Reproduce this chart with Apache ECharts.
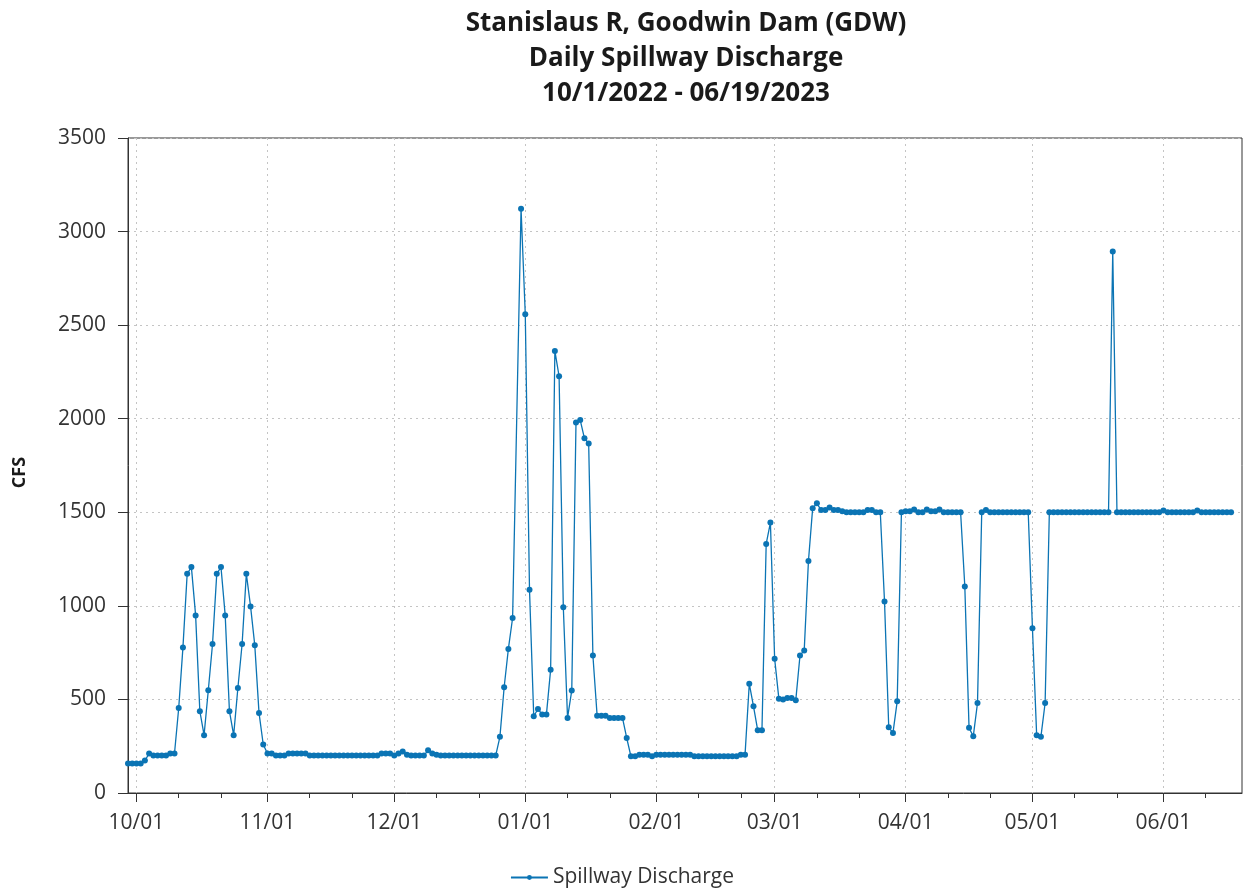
<!DOCTYPE html>
<html><head><meta charset="utf-8">
<script src="https://cdn.jsdelivr.net/npm/echarts@6/dist/echarts.min.js"></script>
<style>html,body{margin:0;padding:0;background:#fff}#c{width:1244px;height:888px}</style>
</head><body><div id="c"></div>
<script>
const titleLines = ['Stanislaus R, Goodwin Dam (GDW)', 'Daily Spillway Discharge', '10/1/2022 - 06/19/2023'];
const seriesName = 'Spillway Discharge';
const yAxisName = 'CFS';
// first value is drawn at this date (the reference draws the series starting just left of the 10/01 tick)
const firstPlotDate = [2022, 8, 29];
// daily spillway discharge (cfs), one value per day, null = missing day
const spillwayCfs = [
  157,157,157,157,173,211,200,200,200,200,211,211,454,778,1171,1207,949,437,309,549,796,1171,1207,949,437,309,561,796,1171,997,789,428,259,211,
  211,200,200,200,211,211,211,211,211,
  200,200,200,200,200,200,200,200,200,200,200,200,200,200,200,200,200,
  211,211,211,200,211,222,205,200,200,200,200,228,211,205,
  200,200,200,200,200,200,200,200,200,200,200,200,200,200,
  300,565,770,935,null,
  3122,2558,1086,410,449,419,419,659,2362,2227,993,401,548,1980,1993,1895,1868,735,413,413,413,401,401,401,401,294,
  196,196,205,205,205,196,205,205,205,205,205,205,205,205,205,196,196,196,196,196,196,196,196,196,196,196,205,205,
  584,463,335,335,1331,1445,718,504,499,508,508,495,735,762,1240,1522,1548,
  1512,1512,1525,1512,1512,1505,1500,1500,1500,1500,1500,1512,1512,1500,1500,1023,351,321,490,
  1500,1505,1505,1515,1500,1500,1515,1505,1505,1515,1500,1500,1500,1500,1500,1103,348,303,481,
  1500,1512,1500,1500,1500,1500,1500,1500,1500,1500,1500,1500,881,308,300,481,
  1500,1500,1500,1500,1500,1500,1500,1500,1500,1500,1500,1500,1500,1500,1500,2894,
  1500,1500,1500,1500,1500,1500,1500,1500,1500,1500,1500,1510,1500,1500,1500,1500,1500,1500,1500,1510,1500,1500,1500,1500,1500,1500,1500,1500
];
const monthTickDates = [[2022,9,1],[2022,10,1],[2022,11,1],[2023,0,1],[2023,1,1],[2023,2,1],[2023,3,1],[2023,4,1],[2023,5,1]];
const monthTickLabels = ['10/01','11/01','12/01','01/01','02/01','03/01','04/01','05/01','06/01'];
const minorTickDays = [11, 21];
const yMin = 0, yMax = 3500, yStep = 500;
const axisStart = [2022, 8, 29, 0];
const axisEnd = [2023, 5, 19, 14];

const DAY = 86400000;
const t0 = new Date(firstPlotDate[0], firstPlotDate[1], firstPlotDate[2]).getTime();
const seriesData = spillwayCfs.map((v, i) => [t0 + i * DAY, v]);
const monthVals = monthTickDates.map(d => new Date(d[0], d[1], d[2]).getTime());
const minorVals = [];
monthTickDates.forEach(d => minorTickDays.forEach(dd => minorVals.push(new Date(d[0], d[1], dd).getTime())));
const xMin = new Date(...axisStart).getTime();
const xMax = new Date(...axisEnd).getTime();

const FONT = 'Open Sans';
const LINE = '#0b74b4';
const AX = '#333333';
const GRIDC = '#c4c4c4';

const chart = echarts.init(document.getElementById('c'), null, {renderer: 'canvas'});
chart.setOption({
  animation: false,
  backgroundColor: '#ffffff',
  title: {
    text: titleLines.join('\n'),
    left: 681, top: 1, textAlign: 'center',
    textStyle: {fontFamily: FONT, fontSize: 26, fontWeight: 'bold', color: '#1a1a1a', lineHeight: 35}
  },
  legend: {
    data: [seriesName], left: 'center', top: 862,
    itemWidth: 37, itemHeight: 6, itemGap: 10,
    textStyle: {fontFamily: FONT, fontSize: 21, color: '#333'}
  },
  grid: {left: 128, right: 2, top: 138, bottom: 95, show: true, borderColor: AX, borderWidth: 1, containLabel: false, outerBoundsMode: 'none'},
  xAxis: [{
    type: 'value', min: xMin, max: xMax, position: 'bottom',
    axisLine: {show: true, lineStyle: {color: AX, width: 1}},
    axisTick: {show: true, customValues: minorVals, length: 5, lineStyle: {color: AX}},
    axisLabel: {show: false},
    splitLine: {show: false}
  }, {
    type: 'value', min: xMin, max: xMax, position: 'bottom',
    axisLine: {show: false},
    axisTick: {show: true, customValues: monthVals, length: 9, lineStyle: {color: AX}},
    axisLabel: {
      show: true, customValues: monthVals, margin: 20,
      fontFamily: FONT, fontSize: 21, color: '#333',
      formatter: v => { const k = monthVals.indexOf(v); return k >= 0 ? monthTickLabels[k] : ''; }
    },
    splitLine: {show: true, lineStyle: {color: GRIDC, type: [2, 4], width: 1}}
  }],
  yAxis: {
    type: 'value', min: yMin, max: yMax, interval: yStep,
    axisLine: {show: true, lineStyle: {color: AX}},
    axisTick: {show: true, length: 10, lineStyle: {color: AX}},
    axisLabel: {fontFamily: FONT, fontSize: 21, color: '#333', margin: 22, formatter: v => String(v)},
    splitLine: {show: true, lineStyle: {color: GRIDC, type: [2, 4], width: 1}},
    name: yAxisName, nameLocation: 'middle', nameGap: 99,
    nameTextStyle: {fontFamily: FONT, fontSize: 18, fontWeight: 'bold', color: '#1a1a1a', padding: [0, 14, 0, 0]}
  },
  series: [{
    name: seriesName, type: 'line', xAxisIndex: 0, data: seriesData,
    connectNulls: true, symbol: 'circle', symbolSize: 6, showSymbol: true,
    lineStyle: {color: LINE, width: 1.3}, itemStyle: {color: LINE},
    emphasis: {disabled: true}
  }]
});
</script></body></html>
